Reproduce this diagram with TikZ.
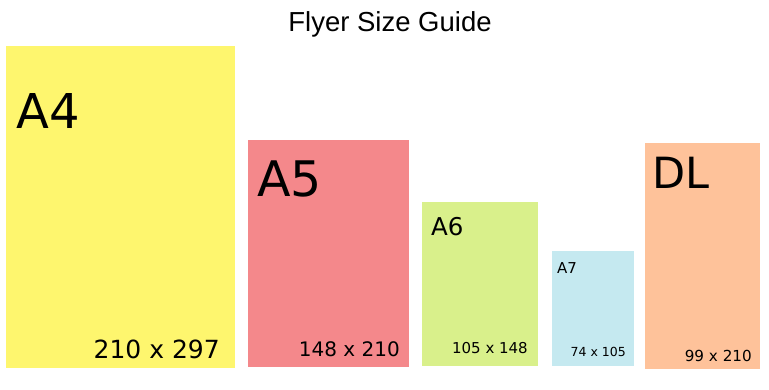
\documentclass[tikz,border=0pt]{standalone}
\usepackage{fontspec}
\setmainfont{DejaVu Sans}
\newfontfamily\titlefont{Liberation Sans}
\definecolor{cA4}{RGB}{254,246,110}
\definecolor{cA5}{RGB}{244,136,139}
\definecolor{cA6}{RGB}{217,240,139}
\definecolor{cA7}{RGB}{197,233,240}
\definecolor{cDL}{RGB}{254,194,154}
\tikzset{
  sheet/.style={draw=none, inner sep=0pt, outer sep=0pt, anchor=north west},
  sizelabel/.style={inner sep=0pt, anchor=base west, text=black},
  dimlabel/.style={inner sep=0pt, anchor=base east, text=black},
}
\newcommand{\fs}[1]{\fontsize{#1pt}{#1pt}\selectfont}
\begin{document}
\begin{tikzpicture}[x=1pt,y=-1pt]
\fill[white] (0,0) rectangle (769,390);
\useasboundingbox (0,0) rectangle (769,390);
\node[inner sep=0pt, anchor=base] (title) at (390,32) {\titlefont\fs{27.5}Flyer Size Guide};
% sheets
\node[sheet, fill=cA4, minimum width=229pt, minimum height=322pt] (a4) at (6,46) {};
\node[sheet, fill=cA5, minimum width=161pt, minimum height=227pt] (a5) at (248,140) {};
\node[sheet, fill=cA6, minimum width=116pt, minimum height=164pt] (a6) at (422,202) {};
\node[sheet, fill=cA7, minimum width=82pt, minimum height=115pt] (a7) at (552,251) {};
\node[sheet, fill=cDL, minimum width=115pt, minimum height=226pt] (dl) at (645,143) {};
% names
\node[sizelabel] (a4n) at (16,129) {\fs{48}A4};
\node[sizelabel] (a5n) at (257,197) {\fs{49}A5};
\node[sizelabel] (a6n) at (431,236) {\fs{24.5}A6};
\node[sizelabel] (a7n) at (557,274) {\fs{15}A7};
\node[sizelabel] (dln) at (652,189) {\fs{43}DL};
% dimensions
\node[dimlabel] (a4d) at (220,359) {\fs{25}210 x 297};
\node[dimlabel] (a5d) at (400,356) {\fs{20}148 x 210};
\node[dimlabel] (a6d) at (528,353) {\fs{15}105 x 148};
\node[dimlabel] (a7d) at (626,356) {\fs{12.5}74 x 105};
\node[dimlabel] (dld) at (752,361) {\fs{15.2}99 x 210};
\end{tikzpicture}
\end{document}
